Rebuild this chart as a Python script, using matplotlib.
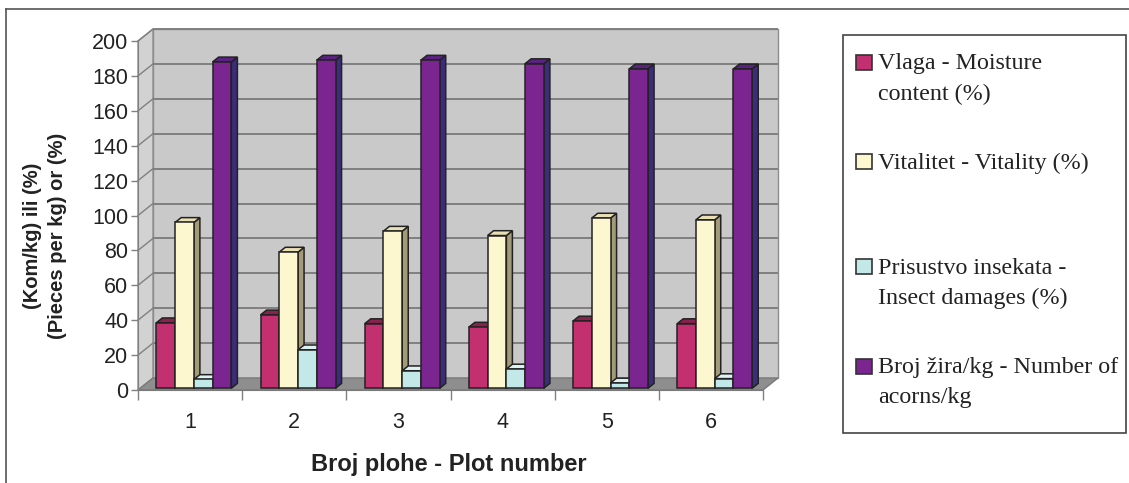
import matplotlib
matplotlib.use("Agg")
import matplotlib.pyplot as plt
from matplotlib.patches import Polygon, Rectangle
from matplotlib.lines import Line2D

# ---------------- data ----------------
plots = ["1", "2", "3", "4", "5", "6"]
moisture = [37.5, 42, 37, 35, 38.5, 37]
vitality = [95, 78, 90, 87.5, 97.5, 96.5]
insects = [5, 22, 10, 11, 3, 5.5]
acorns = [187, 188, 188, 186, 183, 183]
yticks = [0, 20, 40, 60, 80, 100, 120, 140, 160, 180, 200]

series_labels = ["Vlaga - Moisture\ncontent (%)",
                 "Vitalitet - Vitality (%)",
                 "Prisustvo insekata -\nInsect damages (%)",
                 "Broj žira/kg - Number of\nacorns/kg"]
xlabel = "Broj plohe - Plot number"
ylabel = "(Kom/kg) ili (%)\n(Pieces per kg) or (%)"

# colours: (front, side, top)
colors = [("#C2306F", "#7A1E45", "#8A2250"),
          ("#FDF7CF", "#A39A78", "#E9E0B6"),
          ("#C3E8E8", "#7FAAAA", "#DDF3F3"),
          ("#7B2590", "#3B2D7A", "#5A2282")]

# ---------------- layout ----------------
W, H = 1129, 483
fig = plt.figure(figsize=(W / 100, H / 100), dpi=100)
fig.patch.set_facecolor("white")

def fx(px):
    return px / W

def fy(py):
    return 1 - py / H

ax_l, ax_r, ax_t, ax_b = 138, 763, 41, 390
ax = fig.add_axes([fx(ax_l), fy(ax_b), fx(ax_r - ax_l), (ax_b - ax_t) / H])
n = len(plots)
ax.set_xlim(0, n)
ax.set_ylim(0, 200)
ax.patch.set_alpha(0)

# depth offsets in data units
px_x = (ax_r - ax_l) / n
px_y = (ax_b - ax_t) / 200
DX = 15 / px_x
DY = 12 / px_y

grid_c = "#808080"
# back wall
ax.add_patch(Rectangle((DX, DY), n, 200, facecolor="#C9C9C9", edgecolor="#8c8c8c",
                       lw=1.0, clip_on=False, zorder=0))
# left wall
ax.add_patch(Polygon([(0, 0), (DX, DY), (DX, 200 + DY), (0, 200)], closed=True,
                     facecolor="#D2D2D2", edgecolor="#8c8c8c", lw=1.0,
                     clip_on=False, zorder=0))
# floor
ax.add_patch(Polygon([(0, 0), (n, 0), (n + DX, DY), (DX, DY)], closed=True,
                     facecolor="#8E8E8E", edgecolor="#7a7a7a", lw=1.0,
                     clip_on=False, zorder=0.5))
# gridlines on back wall + diagonals on left wall
for v in yticks[1:]:
    ax.plot([DX, n + DX], [v + DY, v + DY], color=grid_c, lw=1.4, zorder=0.6,
            clip_on=False, solid_capstyle="butt")
    ax.plot([0, DX], [v, v + DY], color=grid_c, lw=1.0, zorder=0.6, clip_on=False)

# ---------------- bars ----------------
data = [moisture, vitality, insects, acorns]
bw = 0.18
f0, f1 = 0.15, 0.55   # front and back depth fractions of the bars
group_center = 0.515
edge = "#222222"
z = 2
for ci in range(n):
    for si, vals in enumerate(data):
        v = vals[ci]
        xc = ci + group_center + (si - 1.5) * bw
        xl, xr = xc - bw / 2, xc + bw / 2
        fc, sc, tc = colors[si]
        ox0, oy0 = f0 * DX, f0 * DY
        ox1, oy1 = f1 * DX, f1 * DY
        # side face
        ax.add_patch(Polygon([(xr + ox0, oy0), (xr + ox1, oy1), (xr + ox1, v + oy1),
                              (xr + ox0, v + oy0)], closed=True, facecolor=sc,
                             edgecolor=edge, lw=1.1, zorder=z, clip_on=False))
        # top face
        ax.add_patch(Polygon([(xl + ox0, v + oy0), (xr + ox0, v + oy0), (xr + ox1, v + oy1),
                              (xl + ox1, v + oy1)], closed=True, facecolor=tc,
                             edgecolor=edge, lw=1.1, zorder=z, clip_on=False))
        # front face
        ax.bar(xc + ox0, v, width=bw, bottom=oy0, color=fc, edgecolor=edge,
               lw=1.1, zorder=z + 0.1, clip_on=False)
        z += 0.2

# ---------------- axes styling ----------------
for s in ["top", "right"]:
    ax.spines[s].set_visible(False)
ax.spines["left"].set_color("#808080")
ax.spines["bottom"].set_color("#7a7a7a")
ax.spines["left"].set_zorder(1)
ax.set_yticks(yticks)
ax.set_yticklabels([str(t) for t in yticks], fontsize=15.5, color="#222222",
                   family="Liberation Sans")
ax.tick_params(axis="y", length=5, width=1, color="#808080", pad=2)
ax.set_xticks(range(n + 1))
ax.set_xticklabels([""] * (n + 1))
ax.tick_params(axis="x", which="major", length=7, width=1, color="#808080")
ax.set_xticks([i + 0.5 for i in range(n)], minor=True)
ax.set_xticklabels(plots, minor=True, fontsize=15.5, color="#222222",
                   family="Liberation Sans")
ax.tick_params(axis="x", which="minor", length=0, pad=16)

fig.text(fx(449), fy(464), xlabel, ha="center", va="center", fontsize=17,
         fontweight="bold", color="#222222", family="Liberation Sans")
fig.text(fx(45), fy(236), ylabel, ha="center", va="center", rotation=90,
         fontsize=14.5, fontweight="bold", color="#222222", family="Liberation Sans",
         linespacing=1.45, multialignment="center")

# ---------------- legend ----------------
fig.add_artist(Rectangle((fx(843), fy(433)), fx(1126 - 843), (433 - 35) / H,
                         transform=fig.transFigure, facecolor="white",
                         edgecolor="#444444", lw=1.2))
line1_y = [64, 163, 268, 368]
for lab, (fc, sc, tc), y0 in zip(series_labels, colors, line1_y):
    fig.add_artist(Rectangle((fx(856), fy(y0 + 6)), fx(16), 15 / H,
                             transform=fig.transFigure, facecolor=fc,
                             edgecolor="#333333", lw=1.2))
    for k, line in enumerate(lab.split("\n")):
        fig.text(fx(878), fy(y0 + 30 * k), line, ha="left", va="center",
                 fontsize=17.3, color="#222222", family="Liberation Serif")

# outer frame (top and left)
fig.add_artist(Line2D([fx(6), 1], [fy(9), fy(9)], transform=fig.transFigure,
                      color="#555555", lw=1.2))
fig.add_artist(Line2D([fx(6), fx(6)], [fy(9), 0], transform=fig.transFigure,
                      color="#555555", lw=1.2))

fig.savefig("out.png", dpi=100)
